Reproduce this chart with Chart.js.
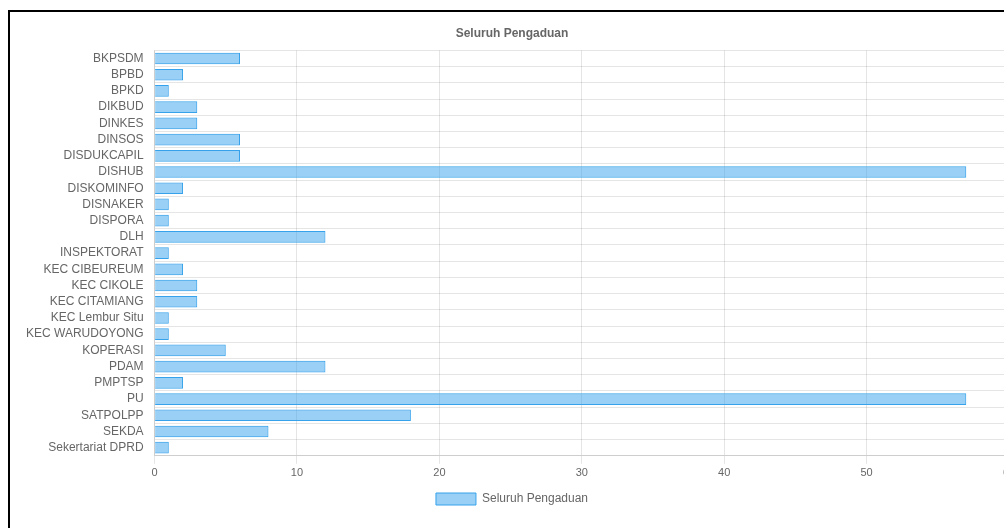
<!DOCTYPE html>
<html>
<head>
<meta charset="utf-8">
<script src="https://cdn.jsdelivr.net/npm/chart.js@4"></script>
<style>
    html, body { margin: 0; padding: 0; background: #fff; overflow: hidden; }
    #frame {
        position: absolute;
        left: 8px;
        top: 10px;
        width: 1040px;
        height: 540px;
        border-left: 2px solid #000;
        border-top: 2px solid #000;
    }
    #chart {
        position: absolute;
        left: 0px;
        top: 0px;
    }
</style>
</head>
<body>
<div id="frame">
    <canvas id="chart" width="1026" height="509"></canvas>
</div>
<script>
const categories = [
    "BKPSDM", "BPBD", "BPKD", "DIKBUD", "DINKES", "DINSOS", "DISDUKCAPIL",
    "DISHUB", "DISKOMINFO", "DISNAKER", "DISPORA", "DLH", "INSPEKTORAT",
    "KEC CIBEUREUM", "KEC CIKOLE", "KEC CITAMIANG", "KEC Lembur Situ",
    "KEC WARUDOYONG", "KOPERASI", "PDAM", "PMPTSP", "PU", "SATPOLPP",
    "SEKDA", "Sekertariat DPRD"
];
const pengaduan = [6, 2, 1, 3, 3, 6, 6, 57, 2, 1, 1, 12, 1, 2, 3, 3, 1, 1, 5, 12, 2, 57, 18, 8, 1];
const seriesLabel = "Seluruh Pengaduan";
const title = "Seluruh Pengaduan";

Chart.defaults.font.family = "Arial, 'Liberation Sans', Helvetica, sans-serif";
Chart.defaults.font.size = 12;
Chart.defaults.color = "#666";

const chart = new Chart("chart", {
    type: "bar",
    data: {
        labels: categories,
        datasets: [{
            label: seriesLabel,
            data: pengaduan,
            backgroundColor: "rgba(54, 162, 235, 0.5)",
            borderColor: "rgb(54, 162, 235)",
            borderWidth: 1
        }]
    },
    options: {
        indexAxis: "y",
        responsive: false,
        animation: false,
        layout: {
            padding: { left: 5, top: 4, right: 27, bottom: 6 }
        },
        scales: {
            x: {
                min: 0,
                max: 60,
                ticks: { stepSize: 10, font: { size: 11 } },
                grid: { color: "rgba(0,0,0,0.1)" },
                border: { color: "rgba(0,0,0,0.1)" }
            },
            y: {
                ticks: { autoSkip: false, padding: 11, font: { size: 12 } },
                grid: { color: "rgba(0,0,0,0.1)", drawTicks: false },
                border: { color: "rgba(0,0,0,0.1)" }
            }
        },
        plugins: {
            title: {
                display: true,
                text: title,
                font: { size: 12, weight: "bold" }
            },
            legend: {
                position: "bottom",
                labels: { boxWidth: 40, font: { size: 12 } }
            },
            tooltip: { enabled: false }
        }
    }
});
</script>
</body>
</html>
